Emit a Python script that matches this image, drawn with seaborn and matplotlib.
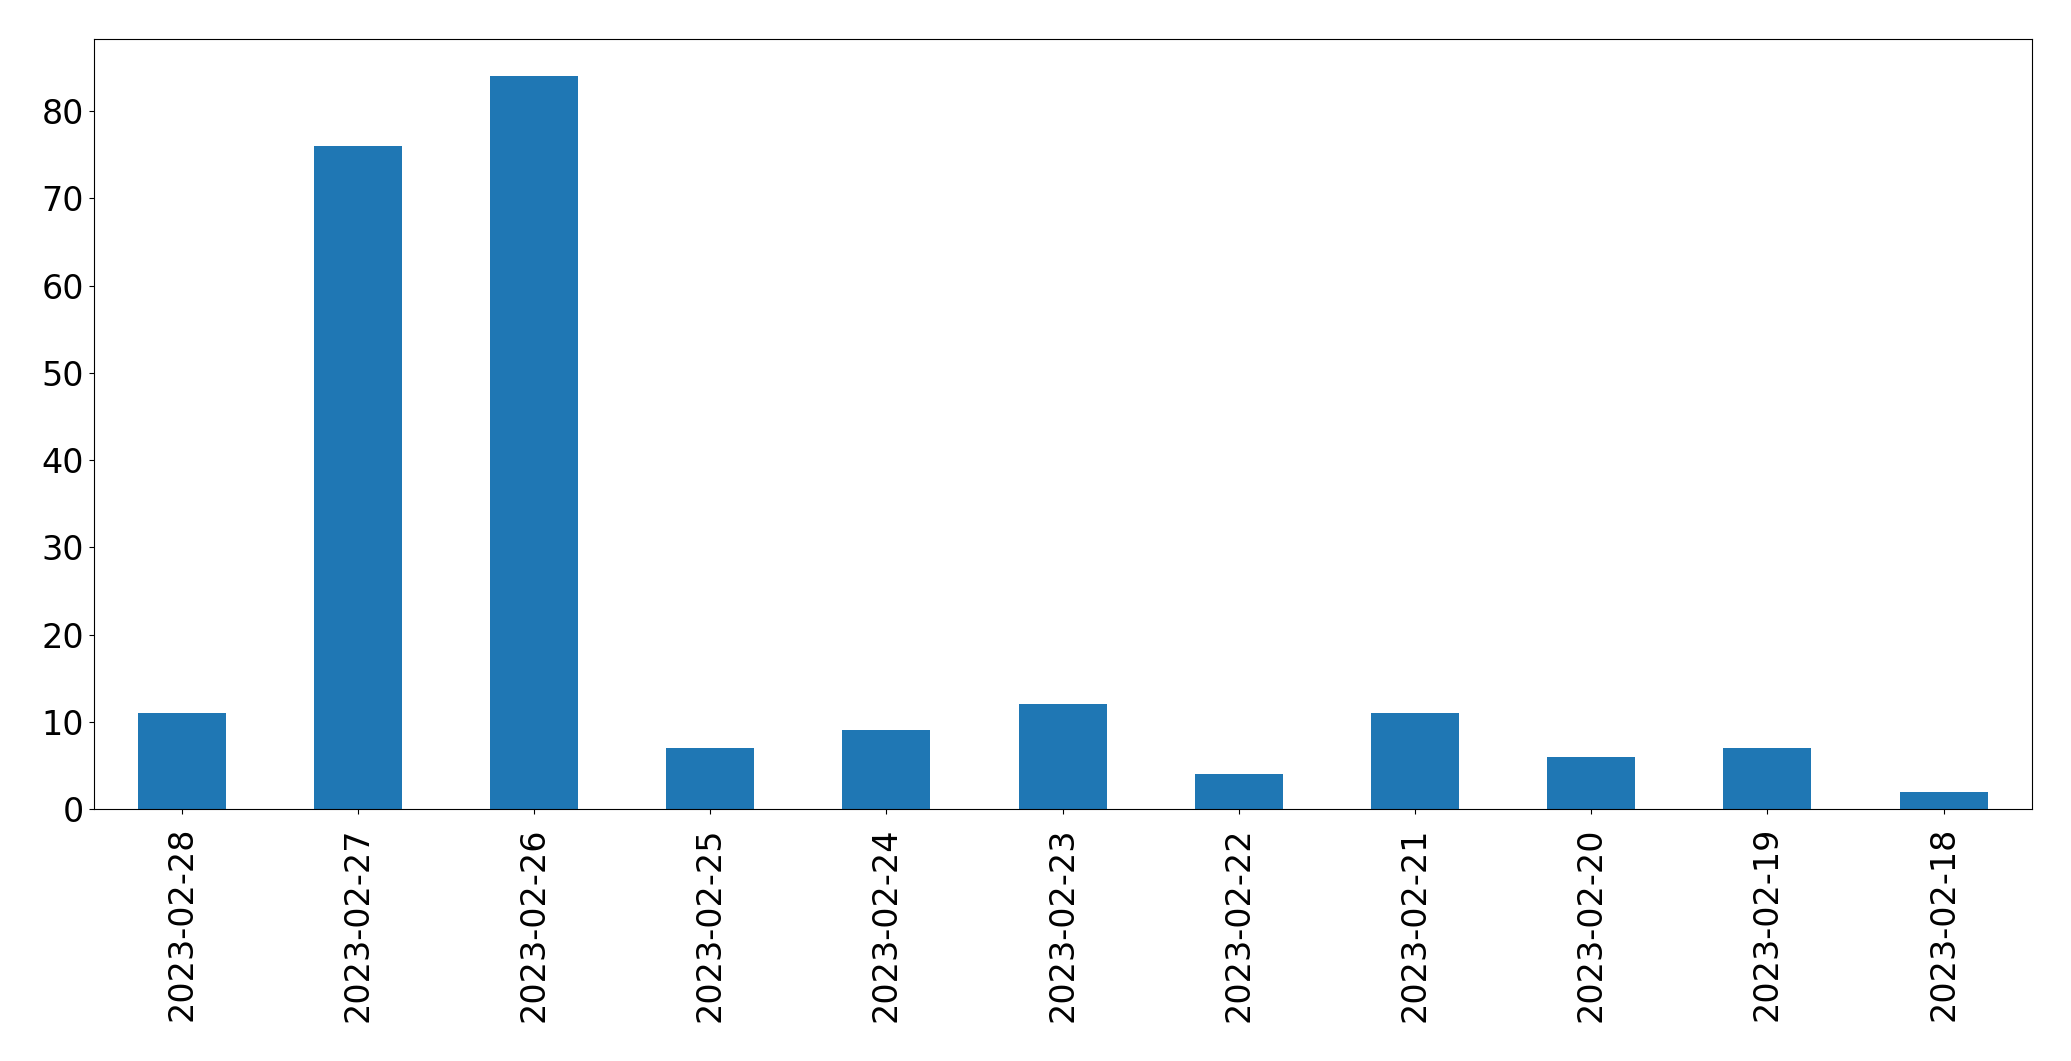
import matplotlib
matplotlib.use("Agg")
import matplotlib.pyplot as plt
import seaborn as sns
import pandas as pd

dates = ["2023-02-28", "2023-02-27", "2023-02-26", "2023-02-25", "2023-02-24",
         "2023-02-23", "2023-02-22", "2023-02-21", "2023-02-20", "2023-02-19",
         "2023-02-18"]
counts = [11, 76, 84, 7, 9, 12, 4, 11, 6, 7, 2]

df = pd.DataFrame({"date": dates, "count": counts})

fig = plt.figure(figsize=(20.71, 10.61), dpi=100)
ax = fig.add_axes([0.0452, 0.2375, 0.9810 - 0.0452, 0.9628 - 0.2375])
sns.barplot(data=df, x="date", y="count", order=dates, color="#1f77b4",
            saturation=1, width=0.5, ax=ax)
ax.set_xlim(-0.5, len(dates) - 0.5)
ax.set_ylim(0, max(counts) * 1.05)
ax.set_xlabel("")
ax.set_ylabel("")
for s in ax.spines.values():
    s.set_color("black")
ax.tick_params(axis="both", labelsize=24, colors="black")
ax.tick_params(axis="x", labelrotation=90, pad=9.5)
fig.savefig("out.png", dpi=100)
